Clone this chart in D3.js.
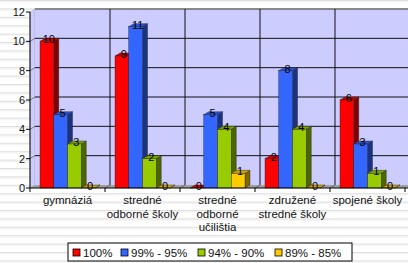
<!DOCTYPE html>
<html>
<head>
<meta charset="utf-8">
<script src="https://cdn.jsdelivr.net/npm/d3@7/dist/d3.min.js"></script>
<style>
  body { margin: 0; padding: 0; background: #fff; }
  svg { display: block; font-family: Arial, "Liberation Sans", sans-serif; }
</style>
</head>
<body>
<div id="container"></div>
<script>
var width = 408,
    height = 263;

// data
var categories = ["gymnáziá", "stredné|odborné školy", "stredné|odborné|učilištia", "združené|stredné školy", "spojené školy"];
var seriesNames = ["100%", "99% - 95%", "94% - 90%", "89% - 85%"];
var s100 = [10, 9, 0, 2, 6];
var s99_95 = [5, 11, 5, 8, 3];
var s94_90 = [3, 2, 4, 4, 1];
var s89_85 = [0, 0, 1, 0, 0];
var yTicks = [0, 2, 4, 6, 8, 10, 12];

var series = [s100, s99_95, s94_90, s89_85];
var front = ["#FF0000", "#3366FF", "#99CC00", "#FFCC00"];
var topC = ["#CC0000", "#2952CC", "#7AA300", "#CCA300"];
var sideC = ["#800000", "#1A3380", "#4D6600", "#806600"];

var dx = 5, dy = -3;

var svg = d3.select("#container").append("svg")
    .attr("width", width)
    .attr("height", height);

// striped background
var pat = svg.append("defs").append("pattern")
    .attr("id", "stripes")
    .attr("patternUnits", "userSpaceOnUse")
    .attr("width", 8).attr("height", 8.4);
pat.append("rect").attr("width", 8).attr("height", 8.4).attr("fill", "#fff");
pat.append("rect").attr("y", 0).attr("width", 8).attr("height", 1).attr("fill", "#dedede");
pat.append("rect").attr("y", 1.4).attr("width", 8).attr("height", 0.8).attr("fill", "#ececec");
svg.append("rect").attr("width", width).attr("height", height).attr("fill", "url(#stripes)");

var x0 = d3.scaleBand().domain(d3.range(categories.length)).range([30, 405]);
var x1 = d3.scaleBand().domain(d3.range(series.length)).range([10, x0.bandwidth() - 10]);
var y = d3.scaleLinear().domain([0, 12]).range([188, 12]);

var left = x0.range()[0], right = x0.range()[1];
var base = y(0), topY = y(12);

// walls and floor
svg.append("polygon")
    .attr("points", [[left, topY], [left + dx, topY + dy], [left + dx, base + dy], [left, base]].join(" "))
    .attr("fill", "#CCCCFF").attr("stroke", "#999").attr("stroke-width", 0.5);
svg.append("rect")
    .attr("x", left + dx).attr("y", topY + dy)
    .attr("width", right - left + 10).attr("height", base - topY)
    .attr("fill", "#CCCCFF");
svg.append("polygon")
    .attr("points", [[left, base], [left + dx, base + dy], [right + dx + 10, base + dy], [right + 10, base]].join(" "))
    .attr("fill", "#A0A0A0");
svg.append("line")
    .attr("x1", left + dx).attr("x2", right + dx + 10)
    .attr("y1", topY + dy).attr("y2", topY + dy)
    .attr("stroke", "#888").attr("stroke-width", 2);

// grid lines
yTicks.filter(d => d > 0 && d < 12).forEach(function (d) {
    svg.append("line")
        .attr("x1", left + dx).attr("x2", right + dx + 10)
        .attr("y1", y(d) + dy).attr("y2", y(d) + dy)
        .attr("stroke", "#111").attr("stroke-width", 1);
    svg.append("line")
        .attr("x1", left).attr("x2", left + dx)
        .attr("y1", y(d)).attr("y2", y(d) + dy)
        .attr("stroke", "#555").attr("stroke-width", 0.7);
});
d3.range(1, categories.length).forEach(function (i) {
    var xb = x0(i);
    svg.append("line")
        .attr("x1", xb + dx).attr("x2", xb + dx)
        .attr("y1", topY + dy).attr("y2", base + dy)
        .attr("stroke", "#111").attr("stroke-width", 1);
    svg.append("line")
        .attr("x1", xb).attr("x2", xb + dx)
        .attr("y1", base).attr("y2", base + dy)
        .attr("stroke", "#555").attr("stroke-width", 0.7);
});

// bars
var bw = x1.bandwidth();
categories.forEach(function (c, ci) {
    series.forEach(function (s, si) {
        var v = s[ci];
        var bx = x0(ci) + x1(si);
        var yt = y(v);
        var g = svg.append("g");
        g.append("polygon")
            .attr("points", [[bx + bw, yt], [bx + bw + dx, yt + dy], [bx + bw + dx, base + dy], [bx + bw, base]].join(" "))
            .attr("fill", sideC[si]).attr("stroke", "#222").attr("stroke-width", 0.4);
        g.append("polygon")
            .attr("points", [[bx, yt], [bx + dx, yt + dy], [bx + bw + dx, yt + dy], [bx + bw, yt]].join(" "))
            .attr("fill", topC[si]).attr("stroke", "#222").attr("stroke-width", 0.4);
        if (v > 0) {
            g.append("rect")
                .attr("x", bx).attr("y", yt)
                .attr("width", bw).attr("height", base - yt)
                .attr("fill", front[si]).attr("stroke", "#222").attr("stroke-width", 0.4);
        }
    });
});

// value labels
categories.forEach(function (c, ci) {
    series.forEach(function (s, si) {
        var v = s[ci];
        svg.append("text")
            .attr("x", x0(ci) + x1(si) + bw / 2 + 2)
            .attr("y", y(v) + 2)
            .attr("text-anchor", "middle")
            .attr("font-size", 11)
            .attr("fill", "#000")
            .text(v);
    });
});

// axes
svg.append("line")
    .attr("x1", left).attr("x2", left).attr("y1", topY).attr("y2", base)
    .attr("stroke", "#000");
svg.append("line")
    .attr("x1", left).attr("x2", width).attr("y1", base).attr("y2", base)
    .attr("stroke", "#000");
yTicks.forEach(function (d) {
    svg.append("line")
        .attr("x1", left - 4).attr("x2", left).attr("y1", y(d)).attr("y2", y(d))
        .attr("stroke", "#000");
    svg.append("text")
        .attr("x", left - 5).attr("y", y(d) + 4)
        .attr("text-anchor", "end")
        .attr("font-size", 11)
        .attr("fill", "#111")
        .text(d);
});
d3.range(0, categories.length + 1).forEach(function (i) {
    var xb = i < categories.length ? x0(i) : right;
    svg.append("line")
        .attr("x1", xb).attr("x2", xb).attr("y1", base).attr("y2", base + 4)
        .attr("stroke", "#000");
});
categories.forEach(function (c, ci) {
    var t = svg.append("text")
        .attr("text-anchor", "middle")
        .attr("font-size", 11.5)
        .attr("fill", "#111");
    c.split("|").forEach(function (line, li) {
        t.append("tspan")
            .attr("x", x0(ci) + x0.bandwidth() / 2)
            .attr("y", 204 + li * 13.5)
            .text(line);
    });
});

// legend
var legX = 68, legY = 243, legW = 284, legH = 18;
svg.append("rect")
    .attr("x", legX).attr("y", legY).attr("width", legW).attr("height", legH)
    .attr("fill", "#fff").attr("stroke", "#000").attr("stroke-width", 1);
var itemX = [73, 121, 198, 275];
seriesNames.forEach(function (n, i) {
    svg.append("rect")
        .attr("x", itemX[i]).attr("y", legY + 6)
        .attr("width", 7).attr("height", 7)
        .attr("fill", front[i]).attr("stroke", "#000").attr("stroke-width", 0.8);
    svg.append("text")
        .attr("x", itemX[i] + 10).attr("y", legY + 13.5)
        .attr("font-size", 11.5)
        .attr("fill", "#111")
        .text(n);
});
</script>
</body>
</html>
